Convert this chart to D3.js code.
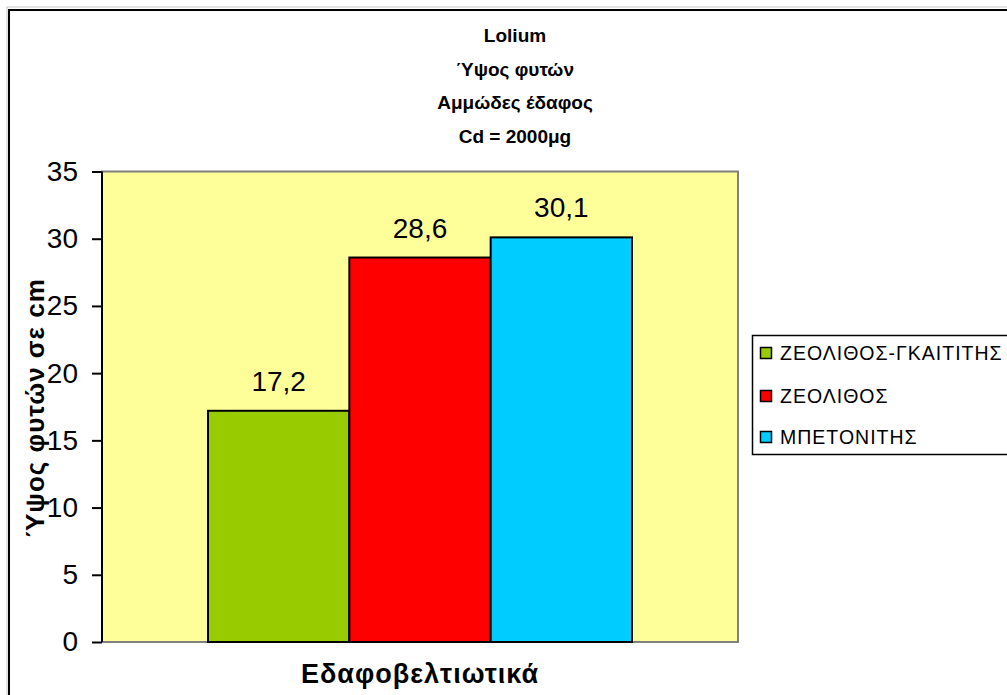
<!DOCTYPE html>
<html>
<head>
<meta charset="utf-8">
<script src="https://cdn.jsdelivr.net/npm/d3@7"></script>
<style>
  html, body { margin: 0; padding: 0; background: #fff; overflow: hidden; }
  svg { display: block; font-family: Arial, "Liberation Sans", sans-serif; }
</style>
</head>
<body>
<svg id="chart" width="1007" height="695"></svg>
<script>
// Chart data
const titleLines = ["Lolium", "Ύψος φυτών", "Αμμώδες έδαφος", "Cd = 2000μg"];
const category = "Εδαφοβελτιωτικά";
const series = ["ΖΕΟΛΙΘΟΣ-ΓΚΑΙΤΙΤΗΣ", "ΖΕΟΛΙΘΟΣ", "ΜΠΕΤΟΝΙΤΗΣ"];
const values = [17.2, 28.6, 30.1];
const colors = ["#99CC00", "#FF0000", "#00CCFF"];
const yTicks = [0, 5, 10, 15, 20, 25, 30, 35];
const yTitle = "Ύψος φυτών σε cm";

const svg = d3.select("#chart");

// Outer chart frame
svg.append("rect").attr("x", 7).attr("y", 7).attr("width", 1100).attr("height", 800)
  .attr("fill", "none").attr("stroke", "#c8c8c8").attr("stroke-width", 1);
svg.append("rect").attr("x", 9).attr("y", 10).attr("width", 1100).attr("height", 800)
  .attr("fill", "#fff").attr("stroke", "#000").attr("stroke-width", 2);

// Plot area
const plot = { left: 102, right: 738, top: 171.5, bottom: 642 };

const y = d3.scaleLinear().domain([0, 35]).range([plot.bottom, plot.top]);

// Category band with Excel-style gap width (150% of a bar)
const gapWidth = 1.5;
const barW = (plot.right - plot.left) / (series.length + gapWidth);
const x0 = d3.scaleBand().domain([category]).range([plot.left, plot.right]);
const groupStart = x0(category) + barW * gapWidth / 2;
const x1 = d3.scaleBand().domain(series)
  .range([groupStart, groupStart + barW * series.length]);

svg.append("rect")
  .attr("x", plot.left).attr("y", plot.top)
  .attr("width", plot.right - plot.left).attr("height", plot.bottom - plot.top)
  .attr("fill", "#FFFF99").attr("stroke", "#808080").attr("stroke-width", 2);

// Bars
const data = series.map((s, i) => ({ s, v: values[i], c: colors[i] }));
svg.append("g").selectAll("rect").data(data).join("rect")
  .attr("x", d => x1(d.s))
  .attr("y", d => y(d.v))
  .attr("width", x1.bandwidth())
  .attr("height", d => y(0) - y(d.v))
  .attr("fill", d => d.c)
  .attr("stroke", "#000").attr("stroke-width", 2);

// Value labels
const fmt = v => d3.format(".1f")(v).replace(".", ",");
svg.append("g").selectAll("text").data(data).join("text")
  .attr("x", d => x1(d.s) + x1.bandwidth() / 2)
  .attr("y", d => y(d.v) - 20)
  .attr("text-anchor", "middle")
  .attr("font-size", 28)
  .attr("fill", "#000")
  .text(d => fmt(d.v));

// Y axis
const yAxis = d3.axisLeft(y).tickValues(yTicks).tickSize(10).tickPadding(14)
  .tickFormat(d3.format("d"));
const yg = svg.append("g").attr("transform", `translate(${plot.left},0)`).call(yAxis);
yg.select(".domain").attr("stroke", "#000").attr("stroke-width", 2)
  .attr("d", `M0,${plot.top}V${plot.bottom}`);
yg.selectAll(".tick line").attr("stroke", "#000").attr("stroke-width", 2);
yg.selectAll(".tick text").attr("font-size", 28).attr("fill", "#000")
  .attr("font-family", "Arial, 'Liberation Sans', sans-serif");

// Y axis title
svg.append("text")
  .attr("transform", `translate(44,408) rotate(-90)`)
  .attr("text-anchor", "middle")
  .attr("font-size", 26).attr("font-weight", "bold")
  .attr("letter-spacing", 1)
  .text(yTitle);

// X axis title
svg.append("text")
  .attr("x", (plot.left + plot.right) / 2)
  .attr("y", 683)
  .attr("text-anchor", "middle")
  .attr("font-size", 27).attr("font-weight", "bold")
  .attr("letter-spacing", 1)
  .text(category);

// Title
svg.append("g").selectAll("text").data(titleLines).join("text")
  .attr("x", 515)
  .attr("y", (d, i) => 42 + i * 33.5)
  .attr("text-anchor", "middle")
  .attr("font-size", 19).attr("font-weight", "bold")
  .text(d => d);

// Legend
const lg = svg.append("g");
lg.append("rect").attr("x", 752.5).attr("y", 335.5).attr("width", 400).attr("height", 119)
  .attr("fill", "#fff").attr("stroke", "#000").attr("stroke-width", 1.5);
const rowY = [353, 396, 437];
const items = lg.selectAll("g.item").data(data).join("g").attr("class", "item")
  .attr("transform", (d, i) => `translate(0,${rowY[i]})`);
items.append("rect").attr("x", 760.5).attr("y", -5.5).attr("width", 11).attr("height", 11)
  .attr("fill", d => d.c).attr("stroke", "#000").attr("stroke-width", 1.5);
items.append("text").attr("x", 780).attr("y", 7)
  .attr("font-size", 19.5).attr("letter-spacing", 1).text(d => d.s);
</script>
</body>
</html>
